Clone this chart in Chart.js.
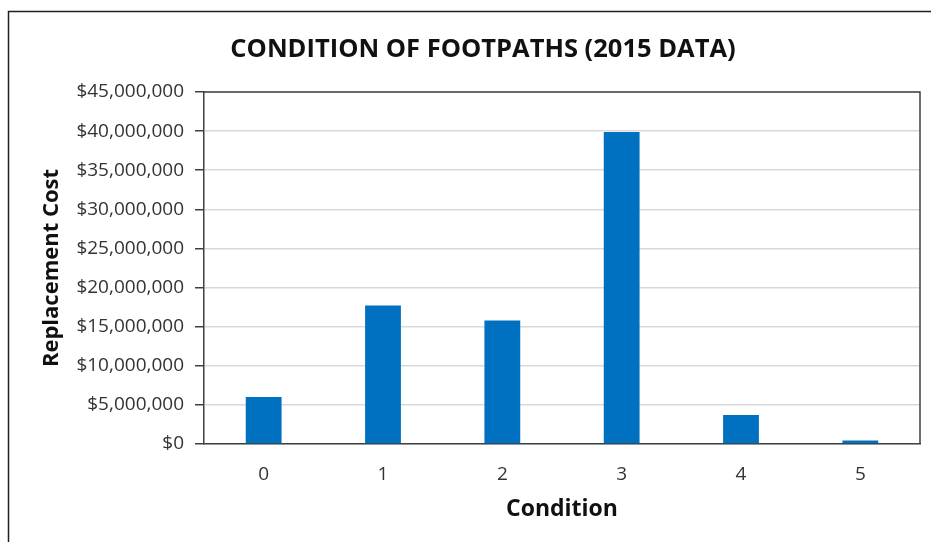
<!DOCTYPE html>
<html>
<head>
<meta charset="utf-8">
<script src="https://cdn.jsdelivr.net/npm/chart.js@4/dist/chart.umd.min.js"></script>
<style>
  html, body { margin: 0; padding: 0; background: #ffffff; }
  #wrap { width: 931px; height: 542px; }
</style>
</head>
<body>
<div id="wrap"><canvas id="c" width="931" height="542"></canvas></div>
<script>
// Footpath condition ratings and their replacement cost (AUD)
const conditions = ['0', '1', '2', '3', '4', '5'];
const replacementCost = [6000000, 17700000, 15800000, 39900000, 3700000, 450000];
const yTickValues = [0, 5000000, 10000000, 15000000, 20000000, 25000000, 30000000, 35000000, 40000000, 45000000];
const chartTitle = 'CONDITION OF FOOTPATHS (2015 DATA)';

const FONT = "'Open Sans', 'DejaVu Sans', sans-serif";
const TEXT = '#333333';
const AXIS = '#404040';

const fmt = v => '$' + Math.round(v).toLocaleString('en-US');

// Outer frame of the chart object, the heading, and the box round the plot area
const framePlugin = {
  id: 'frames',
  beforeDraw(chart) {
    const ctx = chart.ctx;
    ctx.save();
    ctx.fillStyle = '#ffffff';
    ctx.fillRect(0, 0, chart.width, chart.height);
    ctx.strokeStyle = '#1f1f1f';
    ctx.lineWidth = 1.5;
    ctx.beginPath();
    ctx.moveTo(8.5, chart.height + 5);
    ctx.lineTo(8.5, 11.5);
    ctx.lineTo(chart.width + 5, 11.5);
    ctx.stroke();
    // heading, centred a little right of the canvas middle
    ctx.fillStyle = '#111111';
    ctx.font = "bold 25.5px " + FONT;
    ctx.textAlign = 'center';
    ctx.textBaseline = 'middle';
    ctx.fillText(chartTitle, 483, 50);
    ctx.restore();
  },
  afterDraw(chart) {
    const a = chart.chartArea;
    const ctx = chart.ctx;
    ctx.save();
    ctx.strokeStyle = AXIS;
    ctx.lineWidth = 1.5;
    ctx.beginPath();
    ctx.moveTo(a.left, a.top);
    ctx.lineTo(a.right, a.top);
    ctx.lineTo(a.right, a.bottom);
    ctx.stroke();
    ctx.restore();
  }
};

new Chart(document.getElementById('c'), {
  type: 'bar',
  data: {
    labels: conditions,
    datasets: [{
      data: replacementCost,
      backgroundColor: '#0070C0',
      borderWidth: 0,
      categoryPercentage: 1.0,
      barPercentage: 0.3
    }]
  },
  options: {
    responsive: false,
    animation: false,
    devicePixelRatio: 1,
    layout: { padding: { left: 30, right: 11, top: 92, bottom: 0 } },
    plugins: {
      legend: { display: false },
      tooltip: { enabled: false },
      title: { display: false }
    },
    scales: {
      x: {
        grid: { display: false, drawTicks: false },
        border: { display: true, color: AXIS, width: 1.5 },
        ticks: { color: TEXT, font: { family: FONT, size: 19 }, padding: 19 },
        title: {
          display: true,
          text: 'Condition',
          color: '#111111',
          font: { family: FONT, size: 23, weight: 'bold' },
          padding: { top: 0, bottom: 19 }
        },
        afterFit(scale) { scale.height = 98; }
      },
      y: {
        min: 0,
        max: 45000000,
        afterBuildTicks(scale) { scale.ticks = yTickValues.map(v => ({ value: v })); },
        grid: { color: '#d9d9d9', lineWidth: 1.5, tickColor: AXIS, tickLength: 9, drawTicks: true },
        border: { display: true, color: AXIS, width: 1.5 },
        ticks: {
          color: TEXT,
          font: { family: FONT, size: 19 },
          padding: 11,
          callback: v => fmt(v)
        },
        title: {
          display: true,
          text: 'Replacement Cost',
          color: '#111111',
          font: { family: FONT, size: 22, weight: 'bold' },
          padding: { top: 9, bottom: 0 }
        },
        afterFit(scale) { scale.width = 174; }
      }
    }
  },
  plugins: [framePlugin]
});
</script>
</body>
</html>
